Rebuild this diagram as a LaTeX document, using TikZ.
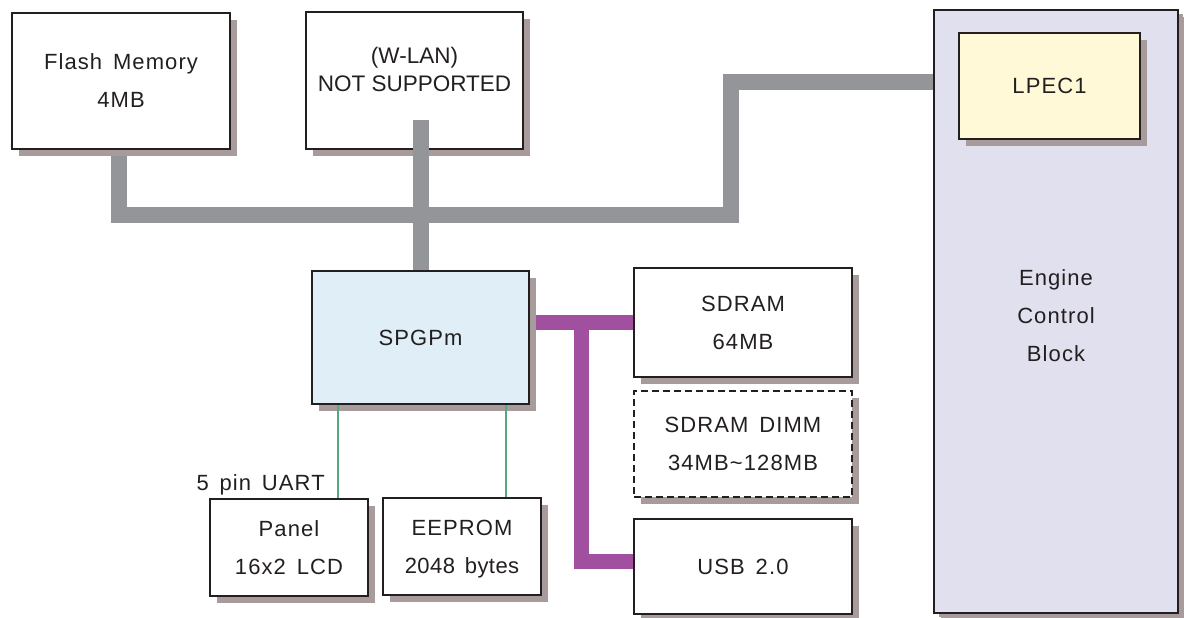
\documentclass[tikz,border=0pt]{standalone}
\usepackage{fontspec}
\setmainfont{Liberation Sans}[LetterSpace=5,WordSpace=1.5]
\newfontfamily\plainfont{Liberation Sans}
\usetikzlibrary{shadows}
\definecolor{ink}{HTML}{231F20}
\definecolor{shadowc}{HTML}{A89B9B}
\definecolor{busgray}{HTML}{939598}
\definecolor{buspurple}{HTML}{A0509E}
\definecolor{linkgreen}{HTML}{55A97E}
\definecolor{cpufill}{HTML}{E0EEF8}
\definecolor{engfill}{HTML}{E0E0EE}
\definecolor{lpecfill}{HTML}{FFF9D8}
\pgfdeclarelayer{bgzero}
\pgfdeclarelayer{bgone}
\pgfsetlayers{bgzero,bgone,main}
\begin{document}
\begin{tikzpicture}[x=1pt,y=-1pt,
  box/.style={draw=ink, line width=1.8pt, fill=white, inner sep=0pt, align=center, text=ink,
    font=\fontsize{22}{38}\selectfont,
    drop shadow={shadow xshift=7pt, shadow yshift=-7pt, fill=shadowc, opacity=1}},
  gbus/.style={draw=busgray, line width=16pt, line join=miter},
  pbus/.style={draw=buspurple, line width=15pt, line join=miter},
  glink/.style={draw=linkgreen, line width=1.3pt},
  txt/.style={text=ink, inner sep=0pt, align=center, font=\fontsize{22}{38}\selectfont}
]
\begin{pgfonlayer}{bgzero}
  \fill[white] (0,0) rectangle (1184,618);
\end{pgfonlayer}
\useasboundingbox (0,0) rectangle (1184,618);

% boxes
\node[box, minimum width=218pt, minimum height=136pt] (flash) at (121,81) {Flash Memory\\4MB};
\node[box, minimum width=217pt, minimum height=137pt] (wlan) at (414.5,80.5) {};
\node[box, fill=cpufill, minimum width=217pt, minimum height=133pt] (spgpm) at (420.5,337.5) {SPGPm};
\node[box, minimum width=218pt, minimum height=109pt] (sdram) at (743,322.5) {SDRAM\\64MB};
\node[box, dash pattern=on 7pt off 4pt, minimum width=218pt, minimum height=106pt] (dimm) at (743,444) {SDRAM DIMM\\34MB\textasciitilde128MB};
\node[box, minimum width=218pt, minimum height=95pt] (usb) at (743,566.5) {USB 2.0};
\node[box, minimum width=158pt, minimum height=97pt] (panel) at (289,547.5) {Panel\\16x2 LCD};
\node[box, minimum width=158pt, minimum height=97pt] (eeprom) at (462,546.5) {EEPROM\\{\addfontfeature{LetterSpace=2}\smash{2048 bytes}}};
\node[box, fill=engfill, drop shadow={shadow xshift=5pt, shadow yshift=-4pt, fill=shadowc, opacity=1}, minimum width=244pt, minimum height=603pt] (engine) at (1056,311.5) {};
\node[box, fill=lpecfill, minimum width=181pt, minimum height=106pt] (lpec) at (1049.5,86) {LPEC1};

% texts
\node[txt, font=\plainfont\fontsize{22.5}{28}\selectfont] (wlantext) at (414.5,69) {(W-LAN)\\NOT SUPPORTED};
\node[txt] (engtext) at (1056,316) {Engine\\Control\\Block};
\node[txt, anchor=base east] (uart) at (325,490) {5 pin UART};

% coordinates
\coordinate (gB) at (731,215);
\coordinate (gC) at (731,82);
\coordinate (wtop) at (420.5,120);
\coordinate (pT) at (581,322.5);
\coordinate (pL) at (581,561);

% buses behind boxes
\begin{pgfonlayer}{bgone}
  \draw[gbus] ([xshift=-2.5pt]flash.south) |- (gB) -- (gC) -- (gC -| engine.west);
  \draw[pbus] (spgpm.east |- sdram.west) -- (sdram.west);
  \draw[pbus] (pT) -- (pL) -- (pL -| usb.west);
\end{pgfonlayer}

% W-LAN drop (drawn over the box)
\draw[gbus] (wtop) -- (wtop |- spgpm.north);

% green links
\draw[glink] ([xshift=49pt]panel.north) -- ([xshift=49pt]panel.north |- spgpm.south);
\draw[glink] ([xshift=44pt]eeprom.north) -- ([xshift=44pt]eeprom.north |- spgpm.south);
\end{tikzpicture}
\end{document}
